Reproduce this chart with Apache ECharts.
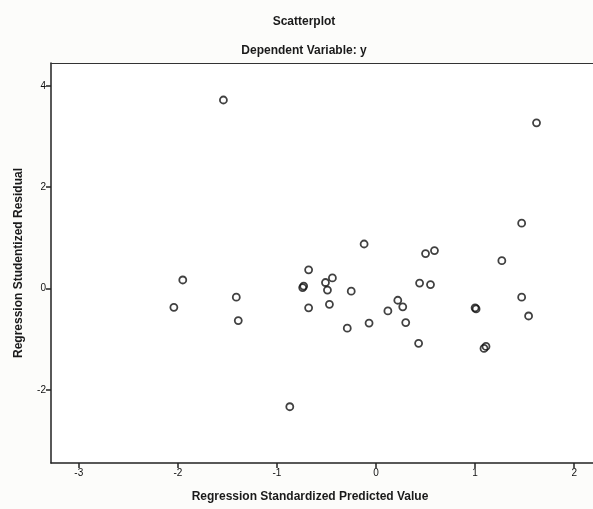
<!DOCTYPE html>
<html>
<head>
<meta charset="utf-8">
<script src="https://cdn.jsdelivr.net/npm/echarts@6/dist/echarts.min.js"></script>
<style>
html,body{margin:0;padding:0;background:#fcfcfa;}
#c{width:593px;height:509px;}
</style>
</head>
<body>
<div id="c"></div>
<script>
// Regression standardized predicted value (x) vs studentized residual (y)
const predicted = [-1.54, 1.62, -2.04, -1.95, -1.41, -1.39, -0.87, -0.68, -0.73, -0.74, -0.68, -0.51, -0.44, -0.49, -0.47, -0.25, -0.29, -0.12, -0.07, 0.12, 0.22, 0.27, 0.30, 0.43, 0.44, 0.55, 0.50, 0.59, 1.01, 1.00, 1.09, 1.11, 1.27, 1.47, 1.47, 1.54];
const residual  = [3.72, 3.27, -0.37, 0.17, -0.17, -0.63, -2.33, 0.37, 0.05, 0.02, -0.38, 0.12, 0.21, -0.03, -0.31, -0.05, -0.78, 0.88, -0.68, -0.44, -0.23, -0.36, -0.67, -1.08, 0.11, 0.08, 0.69, 0.75, -0.40, -0.38, -1.18, -1.14, 0.55, 1.29, -0.17, -0.54];
const xTicks = [-3, -2, -1, 0, 1, 2];
const yTicks = [-2, 0, 2, 4];

const points = predicted.map((v, i) => [v, residual[i]]);

const chart = echarts.init(document.getElementById('c'), null, {renderer: 'canvas'});
const fontFam = 'Liberation Sans, Arial, sans-serif';
chart.setOption({
  backgroundColor: '#fcfcfa',
  animation: false,
  title: [
    {text: 'Scatterplot', left: 299, top: 11, textAlign: 'center',
     textStyle: {fontFamily: fontFam, fontSize: 12, fontWeight: 'bold', color: '#1a1a1a'}},
    {text: 'Dependent Variable: y', left: 299, top: 40, textAlign: 'center',
     textStyle: {fontFamily: fontFam, fontSize: 12, fontWeight: 'bold', color: '#1a1a1a'}}
  ],
  grid: {left: 51, top: 63, right: 0, bottom: 46, show: true, borderWidth: 0, backgroundColor: '#ffffff'},
  xAxis: [{
    type: 'value', min: -3.28, max: 2.19,
    name: 'Regression Standardized Predicted Value', nameLocation: 'middle', nameGap: 28,
    nameTextStyle: {fontFamily: fontFam, fontSize: 12, fontWeight: 'bold', color: '#1a1a1a', padding: [0, 24, 0, 0]},
    axisLine: {show: true, onZero: false, lineStyle: {color: '#222', width: 1.5}},
    axisTick: {show: true, inside: false, length: 5, customValues: xTicks, lineStyle: {color: '#222', width: 1.5}},
    axisLabel: {customValues: xTicks, fontFamily: fontFam, fontSize: 10, color: '#111', margin: 5},
    splitLine: {show: false}
  }, {
    type: 'value', position: 'top', min: -3.28, max: 2.19,
    axisLine: {show: true, onZero: false, lineStyle: {color: '#333', width: 1}},
    axisTick: {show: false}, axisLabel: {show: false}, splitLine: {show: false}
  }],
  yAxis: {
    type: 'value', min: -3.44, max: 4.45,
    name: 'Regression Studentized Residual', nameLocation: 'middle', nameGap: 26,
    nameTextStyle: {fontFamily: fontFam, fontSize: 12, fontWeight: 'bold', color: '#1a1a1a'},
    axisLine: {show: true, onZero: false, lineStyle: {color: '#222', width: 1.5}},
    axisTick: {show: true, inside: false, length: 5, customValues: yTicks, lineStyle: {color: '#222', width: 1.5}},
    axisLabel: {customValues: yTicks, fontFamily: fontFam, fontSize: 10, color: '#111', margin: 5},
    splitLine: {show: false}
  },
  series: [{
    type: 'scatter',
    xAxisIndex: 0,
    data: points,
    symbol: 'circle',
    symbolSize: 7,
    itemStyle: {color: 'rgba(255,255,255,0)', borderColor: '#111', borderWidth: 1.8},
    emphasis: {disabled: true}
  }]
});
</script>
</body>
</html>
